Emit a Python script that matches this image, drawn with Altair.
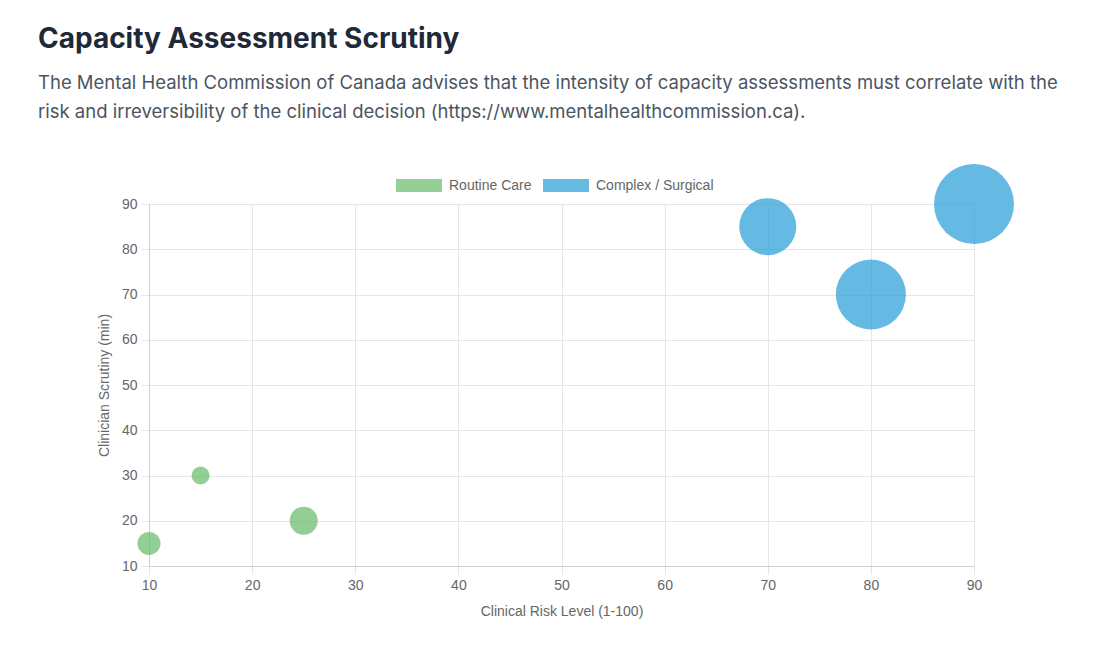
import altair as alt
import pandas as pd

categories = ["Routine Care", "Routine Care", "Routine Care",
              "Complex / Surgical", "Complex / Surgical", "Complex / Surgical"]
risk = [10, 15, 25, 70, 80, 90]
scrutiny = [15, 30, 20, 85, 70, 90]
radius = [11.5, 9, 14, 28.5, 35, 40]

series = ["Routine Care", "Complex / Surgical"]
series_colors = ["#66ba69", "#239ed7"]
tick_values = [10, 20, 30, 40, 50, 60, 70, 80, 90]

title_text = "Capacity Assessment Scrutiny"
subtitle_lines = [
    "The Mental Health Commission of Canada advises that the intensity of capacity assessments must correlate with the",
    "risk and irreversibility of the clinical decision (https://www.mentalhealthcommission.ca).",
]

df = pd.DataFrame({"category": categories, "risk": risk,
                   "scrutiny": scrutiny, "radius": radius})

axis_common = dict(
    values=tick_values,
    grid=True,
    gridColor="#e6e6e6",
    domainColor="#cfcfcf",
    tickColor="#e6e6e6",
    tickSize=8,
    labelColor="#666666",
    labelFontSize=14,
    labelFont="Liberation Sans",
    labelFlush=False,
    titleColor="#666666",
    titleFontSize=14,
    titleFont="Liberation Sans",
    titleFontWeight="normal",
    labelPadding=4,
)

# Vega's circle symbol size is the area of its bounding square: (2r)^2
chart = alt.Chart(df).transform_calculate(
    area="4 * datum.radius * datum.radius"
).mark_circle(opacity=0.7, stroke="transparent").encode(
    x=alt.X("risk:Q", scale=alt.Scale(domain=[10, 90], nice=False, zero=False),
            axis=alt.Axis(title="Clinical Risk Level (1-100)", titlePadding=12, **axis_common)),
    y=alt.Y("scrutiny:Q", scale=alt.Scale(domain=[10, 90], nice=False, zero=False),
            axis=alt.Axis(title="Clinician Scrutiny (min)", titlePadding=10, **axis_common)),
    size=alt.Size("area:Q", scale=None, legend=None),
    color=alt.Color("category:N",
                    scale=alt.Scale(domain=series, range=series_colors),
                    legend=alt.Legend(
                        title=None, orient="none", direction="horizontal",
                        legendX=247, legendY=-41.5,
                        symbolType="M-1,-0.2826L1,-0.2826L1,0.2826L-1,0.2826Z",
                        symbolSize=2116, symbolOpacity=0.7, symbolStrokeWidth=0,
                        labelColor="#666666", labelFontSize=14, labelFont="Liberation Sans",
                        labelOffset=7, columnPadding=11)),
).properties(
    width=825,
    height=362,
    autosize=alt.AutoSizeParams(type="none"),
    padding={"left": 141, "top": 196, "right": 112, "bottom": 83},
    title=alt.TitleParams(
        text=title_text,
        subtitle=subtitle_lines,
        anchor="start",
        frame="group",
        dx=-111,
        offset=39,
        font="Inter",
        fontSize=28,
        fontWeight=700,
        color="#1f2937",
        subtitleFont="Inter",
        subtitleFontSize=18.5,
        subtitleColor="#4b5563",
        subtitleLineHeight=29,
        subtitlePadding=20,
    ),
).configure_view(stroke="transparent")

chart.save("out.html", embed_options={"renderer": "svg", "actions": False})
